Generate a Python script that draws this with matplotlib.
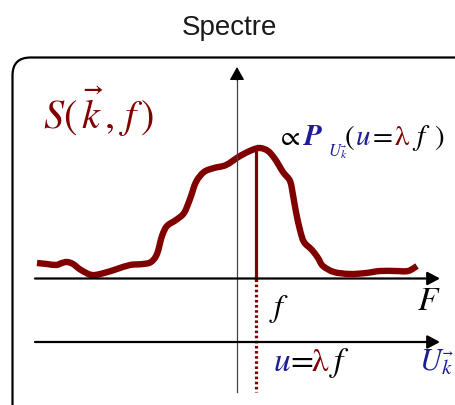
import matplotlib
matplotlib.use("Agg")
import numpy as np
import matplotlib.pyplot as plt
from matplotlib.patches import FancyBboxPatch, PathPatch
from matplotlib.path import Path

plt.rcParams["mathtext.fontset"] = "stix"

# Spectrum curve S(k, f), sampled along the frequency axis (pixel frame)
curve_x = [37, 47, 56, 62, 67, 73, 81, 92, 104, 117, 130, 143, 151, 157, 162,
           167, 176, 184, 190, 196, 204, 214, 226, 240, 252, 260, 268, 275,
           283, 290, 293, 296, 300, 304, 312, 318, 323, 334, 350, 366, 380,
           395, 408, 417]
curve_y = [263, 264, 265, 263, 262, 264, 270, 275, 273, 269, 265, 264, 262,
           254, 236, 226, 220, 213, 199, 182, 172, 168, 165, 156, 150, 148,
           151, 159, 172, 181, 195, 212, 230, 242, 250, 258, 266, 272, 274,
           273, 271, 271, 271, 266]

peak_f = 255.5          # frequency of the selected component
origin_x = 237          # vertical axis position
f_axis_y = 278.5        # F axis
u_axis_y = 342          # U axis

DARKRED = "#800000"
BLUE = "#1c1c98"

fig = plt.figure(figsize=(4.55, 4.05), dpi=100)
ax = fig.add_axes([0, 0, 1, 1])
ax.set_xlim(0, 455)
ax.set_ylim(405, 0)
ax.axis("off")

fig.text(0.505, 1 - 35 / 405, "Spectre", ha="center", va="baseline",
         fontsize=20, family="Liberation Sans", color="#1a1a1a")

# rounded frame
frame = FancyBboxPatch((12.5, 57.5), 480, 400,
                       boxstyle="round,pad=0,rounding_size=18",
                       fill=False, lw=1.6, ec="black")
ax.add_patch(frame)

# vertical axis
ax.plot([origin_x, origin_x], [392, 76], color="#444444", lw=0.9)
ax.annotate("", xy=(origin_x, 67), xytext=(origin_x, 80),
            arrowprops=dict(arrowstyle="-|>,head_length=0.8,head_width=0.45",
                            color="black", lw=0.9, shrinkA=0, shrinkB=0))

# horizontal axes F and U
for yy in (f_axis_y, u_axis_y):
    ax.annotate("", xy=(440, yy), xytext=(35, yy),
                arrowprops=dict(arrowstyle="-|>,head_length=0.75,head_width=0.4",
                                color="black", lw=1.6, shrinkA=0, shrinkB=0))

# selected component and its projection
ax.plot([peak_f, peak_f], [148, f_axis_y], color=DARKRED, lw=2.3)
ax.plot([peak_f, peak_f], [f_axis_y, 392], color=DARKRED, lw=2.3,
        dashes=(0.8, 0.8))

# spectrum drawn as a smooth cubic Bezier path through the samples
pts = np.column_stack([curve_x, curve_y]).astype(float)
verts = [pts[0]]
codes = [Path.MOVETO]
n = len(pts)
for i in range(n - 1):
    p0 = pts[max(i - 1, 0)]
    p1 = pts[i]
    p2 = pts[i + 1]
    p3 = pts[min(i + 2, n - 1)]
    verts += [p1 + (p2 - p0) / 6, p2 - (p3 - p1) / 6, p2]
    codes += [Path.CURVE4] * 3
ax.add_patch(PathPatch(Path(verts, codes), fill=False, ec=DARKRED, lw=4.6,
                       capstyle="butt", joinstyle="round"))

# labels
ax.text(43, 129, r"$S(\,\vec{k}\,,\,f\,)$", color=DARKRED, fontsize=29,
        ha="left", va="baseline")

def put(x, y, s, color, size, **kw):
    ax.text(x, y, s, color=color, fontsize=size, ha="left", va="baseline",
            family="STIXGeneral", **kw)

base = 145
put(281, base, "\u221d", "black", 20)
put(304, base, "P", BLUE, 21, style="italic", weight="bold")
ax.text(328, 157, r"$U_{\vec{k}}$", color=BLUE, fontsize=12, ha="left",
        va="baseline")
put(345, base, "(", "black", 21)
put(356, base, "u", BLUE, 21, style="italic")
put(373, base, "=", "black", 21)
put(395, base, "\u03bb", DARKRED, 21)
put(416, base, "f", "black", 21, style="italic")
put(434, base, ")", "black", 21)

put(274, 316, "f", "black", 23, style="italic")
put(418, 310, "F", "black", 24, style="italic")

put(274, 371, "u", BLUE, 24, style="italic")
put(290, 371, "=", "black", 24)
put(312, 371, "\u03bb", DARKRED, 24)
put(334, 371, "f", "black", 24, style="italic")

ax.text(419, 371, r"$U_{\vec{k}}$", color=BLUE, fontsize=22, ha="left",
        va="baseline")

fig.savefig("out.png", dpi=100)
